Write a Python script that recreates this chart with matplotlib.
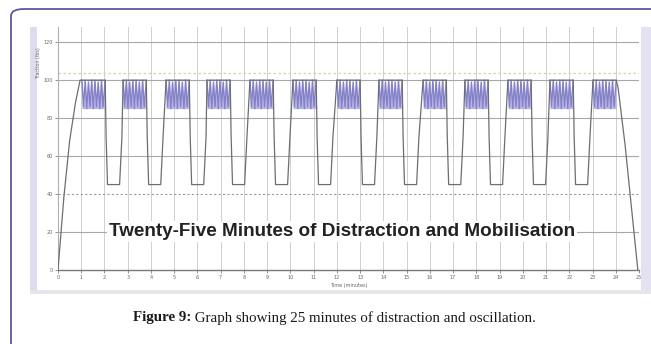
import matplotlib
matplotlib.use("Agg")
import matplotlib.pyplot as plt
from matplotlib.patches import Rectangle, FancyBboxPatch

# ---- data -------------------------------------------------------------
minute_ticks = list(range(0, 26))
force_ticks = [0, 20, 40, 60, 80, 100, 120]

# initial ramp up to working load
ramp_time = [0.0, 0.25, 0.50, 0.75, 0.95]
ramp_force = [0, 38, 68, 88, 100]

# start of each oscillation (mobilisation) block, minutes
block_start = [1.03, 2.80, 4.65, 6.41, 8.26, 10.11, 12.00,
               13.81, 15.71, 17.51, 19.36, 21.17, 23.02]

# oscillation inside a block: time offset (min) and force
osc_offset = [0.00, 0.07, 0.14, 0.21, 0.28, 0.35, 0.42, 0.49,
              0.56, 0.63, 0.70, 0.77, 0.84, 0.91, 1.00]
osc_force = [100, 86, 100, 85, 99, 86, 100, 85, 100, 86, 99, 85, 100, 86, 100]

# rest phase between blocks: time offset after block end and force
rest_offset = [0.04, 0.10, 0.62, 0.72]
rest_force = [70, 45, 45, 70]

# final unloading
end_time = [24.10, 24.40, 24.70, 24.95]
end_force = [96, 66, 30, 0]

upper_limit = 104
lower_limit = 40

title_text = "Twenty-Five Minutes of Distraction and Mobilisation"
caption_bold = "Figure 9:"
caption_rest = " Graph showing 25 minutes of distraction and oscillation."

# ---- build the traces ---------------------------------------------------
line_t, line_f = list(ramp_time), list(ramp_force)
for i, s in enumerate(block_start):
    block_end = s + osc_offset[-1]
    line_t += [s, block_end]
    line_f += [osc_force[0], osc_force[-1]]
    if i < len(block_start) - 1:
        line_t += [block_end + d for d in rest_offset]
        line_f += rest_force
line_t += end_time
line_f += end_force

# ---- figure -------------------------------------------------------------
W, H = 651, 344
fig = plt.figure(figsize=(W / 100, H / 100), dpi=100)
fig.patch.set_facecolor("white")


def fx(px):
    return px / W


def fy(py):
    return 1 - py / H


def panel(x0, y0, x1, y1, color):
    fig.add_artist(Rectangle((fx(x0), fy(y1)), fx(x1 - x0), fy(y0) - fy(y1),
                             transform=fig.transFigure, facecolor=color,
                             edgecolor="none", zorder=-5))


# rounded outer frame
fig.add_artist(FancyBboxPatch((fx(11), fy(400)), fx(700), fy(9) - fy(400),
                              boxstyle="round,pad=0,rounding_size=0.02",
                              transform=fig.transFigure, fill=False,
                              edgecolor="#5d57a3", linewidth=1.3, zorder=-4))

# screenshot panel with lavender side bands
panel(30, 27, 651, 294, "#ffffff")
panel(30, 27, 37, 294, "#dcdcee")
panel(641, 27, 651, 294, "#e4e2f2")
panel(30, 290, 651, 294, "#e6e6ea")

ax = fig.add_axes([fx(58), fy(270), fx(639) - fx(58), fy(27) - fy(270)])
ax.set_facecolor("none")
ax.set_xlim(0, 25)
ax.set_ylim(0, 128)

# grid
for t in minute_ticks:
    ax.axvline(t, color="#cfcfcf", lw=0.7, zorder=0)
for v in [20, 60, 80, 100, 120]:
    ax.axhline(v, color="#a8a8a8", lw=0.8, zorder=1)
ax.axhline(lower_limit, color="#9a9a9a", lw=0.8, ls=(0, (2, 2)), zorder=1)
ax.axhline(upper_limit, color="#ddd48a", lw=0.9, ls=(0, (2, 2)), zorder=1)

# oscillation blocks
for s in block_start:
    bt = [s + d for d in osc_offset]
    ax.fill_between(bt, [min(osc_force)] * len(bt), osc_force,
                    color="#b8b6e6", lw=0, zorder=2)
    ax.plot(bt, osc_force, color="#8581c8", lw=1.0, zorder=3)

ax.plot(line_t, line_f, color="#6e6e6e", lw=0.9, zorder=3)

# axes styling
for side in ["top", "right"]:
    ax.spines[side].set_visible(False)
ax.spines["left"].set_color("#b0b0b0")
ax.spines["bottom"].set_color("#7a7a7a")
ax.spines["bottom"].set_linewidth(1.0)
ax.set_xticks(minute_ticks)
ax.set_yticks(force_ticks)
ax.tick_params(labelsize=3.5, colors="#666666", length=2, width=0.5, pad=1.5)
ax.set_xlabel("Time (minutes)", fontsize=3.5, color="#666666", labelpad=2)
ax.set_ylabel("Traction (lbs)", fontsize=3.5, color="#666666", labelpad=2)
ax.yaxis.set_label_coords(-0.03, 0.85)

ax.text(12.22, 20.5, title_text, fontsize=13.6, fontweight="bold",
        family="Liberation Sans", color="#222222", ha="center", va="center",
        zorder=5, bbox=dict(facecolor="white", edgecolor="none", pad=1.5))

# caption
cap1 = fig.text(fx(133), fy(318), caption_bold, fontsize=10.8,
                family="Liberation Serif", fontweight="bold", va="center",
                ha="left", color="#1a1a1a")
fig.canvas.draw()
bb = cap1.get_window_extent()
fig.text(bb.x1 / W, fy(318), caption_rest, fontsize=10.8,
         family="Liberation Serif", va="center", ha="left", color="#1a1a1a")

fig.savefig("out.png", dpi=100)
